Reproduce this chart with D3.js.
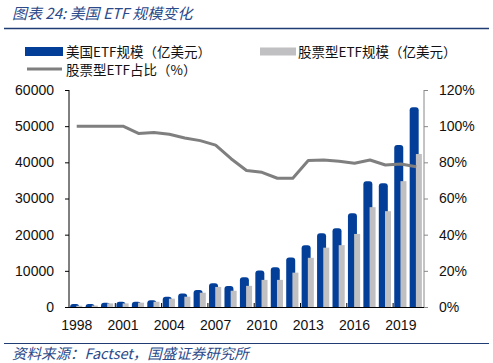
<!DOCTYPE html>
<html><head><meta charset="utf-8">
<script src="https://cdn.jsdelivr.net/npm/d3@7"></script>
<style>
html,body{margin:0;padding:0;background:#fff;}
svg{display:block;}
</style></head>
<body>
<svg id="c" width="493" height="363"></svg>
<script>
const years = [1998,1999,2000,2001,2002,2003,2004,2005,2006,2007,2008,2009,2010,2011,2012,2013,2014,2015,2016,2017,2018,2019,2020];
const totalAUM = [800,800,1200,1450,1450,1900,2800,3700,4700,6600,5800,8200,10100,11000,13700,17100,20400,21800,25900,34800,34200,44800,55200];
const equityAUM = [350,400,1000,1000,1200,1450,2300,2850,3950,5550,4500,5850,7500,7500,9500,13600,16400,17100,20200,27600,26500,34800,42300];
const equityShare = [100,100,100,100,96,96.5,95.5,93.5,92,89.5,82,75.5,74.5,71.2,71.2,81,81.3,80.6,79.5,81.3,78.5,79.1,77.6];
const leftTicks = [0,10000,20000,30000,40000,50000,60000];
const rightTicks = [0,20,40,60,80,100,120];
const xLabelYears = [1998,2001,2004,2007,2010,2013,2016,2019];

const title = "图表 24:  美国 ETF 规模变化";
const source = "资料来源：Factset，国盛证券研究所";
const legendNames = ["美国ETF规模（亿美元）","股票型ETF规模（亿美元）","股票型ETF占比（%）"];

const BLUE = "#033F98", GREY = "#C0C0C2", LINE = "#7F7F7F", TXT = "#2B4A8A";
const svg = d3.select("#c");
const FONT = "'Liberation Sans', Arial, sans-serif";

const L = 69, R = 424, T = 90, B = 307;
const x = d3.scaleBand().domain(years).range([L, R]).paddingInner(0).paddingOuter(0);
const yL = d3.scaleLinear().domain([0, 60000]).range([B, T]);
const yR = d3.scaleLinear().domain([0, 120]).range([B, T]);

// title
svg.append("text").attr("x", 12).attr("y", 19).attr("fill", TXT)
  .attr("font-family", "'Noto Sans CJK SC', sans-serif").attr("font-style", "italic")
  .attr("font-size", 15).text(title);
svg.append("line").attr("x1", 4).attr("x2", 489).attr("y1", 28.5).attr("y2", 28.5)
  .attr("stroke", "#1F3C74").attr("stroke-width", 1.5);

// legend
const lg = svg.append("g").attr("font-family", "'Noto Sans CJK SC', sans-serif").attr("font-size", 13.5).attr("fill", "#111");
lg.append("rect").attr("x", 25).attr("y", 47).attr("width", 38).attr("height", 9).attr("fill", BLUE);
lg.append("text").attr("x", 66).attr("y", 56.5).text(legendNames[0]);
lg.append("rect").attr("x", 260).attr("y", 47.5).attr("width", 36).attr("height", 8).attr("fill", GREY);
lg.append("text").attr("x", 298).attr("y", 56.5).text(legendNames[1]);
lg.append("line").attr("x1", 27).attr("x2", 62).attr("y1", 69).attr("y2", 69).attr("stroke", LINE).attr("stroke-width", 3);
lg.append("text").attr("x", 66).attr("y", 75).text(legendNames[2]);

// bars
const bw = x.bandwidth();
const blueW = 9, greyW = 6;
function roundTop(x0, w, yTop, yBot, r) {
  r = Math.min(r, w/2, (yBot - yTop));
  return `M${x0},${yBot}V${yTop + r}Q${x0},${yTop} ${x0 + r},${yTop}H${x0 + w - r}Q${x0 + w},${yTop} ${x0 + w},${yTop + r}V${yBot}Z`;
}
svg.append("g").selectAll("path").data(years).join("path")
  .attr("fill", BLUE)
  .attr("d", (d, i) => {
    const c = x(d) + bw / 2;
    return roundTop(c - 6.6, blueW, yL(totalAUM[i]), B, 3);
  });
svg.append("g").selectAll("rect").data(years).join("rect")
  .attr("fill", GREY)
  .attr("x", d => x(d) + bw / 2 - 0.4)
  .attr("width", greyW)
  .attr("y", (d, i) => yL(equityAUM[i]))
  .attr("height", (d, i) => B - yL(equityAUM[i]));

// line
const line = d3.line().x((d, i) => x(years[i]) + bw / 2).y(d => yR(d));
svg.append("path").datum(equityShare).attr("d", line)
  .attr("fill", "none").attr("stroke", LINE).attr("stroke-width", 3).attr("stroke-linejoin", "round");

// left axis
const axL = svg.append("g").attr("transform", `translate(${L},0)`)
  .call(d3.axisLeft(yL).tickValues(leftTicks).tickSize(4).tickPadding(11).tickFormat(d3.format("d")));
axL.select(".domain").attr("stroke", "#000").attr("d", `M0,${T}V${B}`);
axL.selectAll(".tick line").attr("stroke", "#000");
axL.selectAll("text").attr("font-family", FONT).attr("font-size", 14).attr("fill", "#111");

// right axis
const axR = svg.append("g").attr("transform", `translate(${R},0)`)
  .call(d3.axisRight(yR).tickValues(rightTicks).tickSize(4).tickPadding(11).tickFormat(d => d + "%"));
axR.select(".domain").attr("stroke", "#888").attr("d", `M0,${T}V${B}`);
axR.selectAll(".tick line").attr("stroke", "#888");
axR.selectAll("text").attr("font-family", FONT).attr("font-size", 14).attr("fill", "#111");

// x axis
svg.append("line").attr("x1", L).attr("x2", R).attr("y1", B + 0.5).attr("y2", B + 0.5).attr("stroke", "#000").attr("stroke-width", 1);
const bx = svg.append("g");
years.forEach((d, i) => {
  if (i > 0 && i % 3 === 0) {
    bx.append("line").attr("x1", x(d)).attr("x2", x(d)).attr("y1", B - 4).attr("y2", B).attr("stroke", "#000");
  }
});
const xa = svg.append("g").attr("transform", `translate(0,${B})`)
  .call(d3.axisBottom(x).tickValues(xLabelYears).tickSize(0).tickPadding(13));
xa.select(".domain").remove();
xa.selectAll("text").attr("font-family", FONT).attr("font-size", 14).attr("fill", "#111");

// footer
svg.append("line").attr("x1", 4).attr("x2", 489).attr("y1", 343.5).attr("y2", 343.5)
  .attr("stroke", "#1F3C74").attr("stroke-width", 1.2);
svg.append("text").attr("x", 12).attr("y", 359).attr("fill", TXT)
  .attr("font-family", "'Noto Sans CJK SC', sans-serif").attr("font-style", "italic")
  .attr("font-size", 14.5).text(source);
</script>
</body></html>
